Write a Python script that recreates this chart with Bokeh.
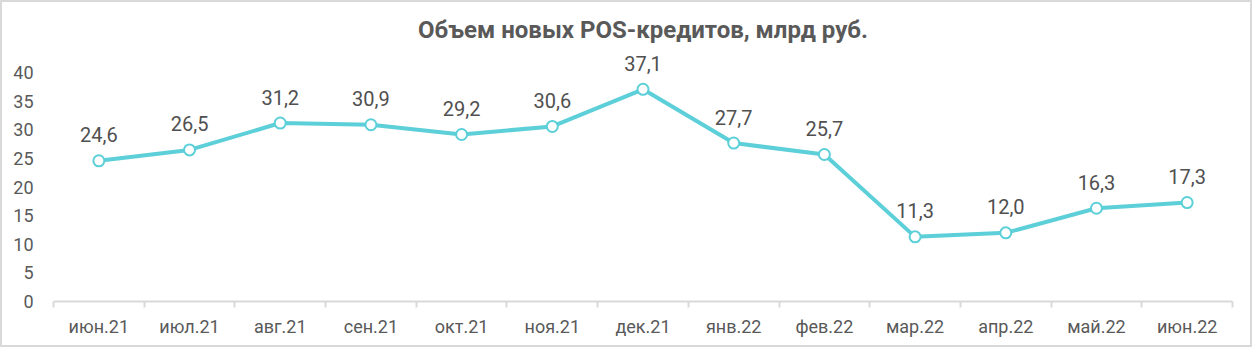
from bokeh.plotting import figure
from bokeh.models import ColumnDataSource, FixedTicker, Label, Range1d
from bokeh.core.properties import value
from bokeh.embed import file_html
from bokeh.resources import INLINE

months = ["июн.21", "июл.21", "авг.21", "сен.21", "окт.21", "ноя.21", "дек.21",
          "янв.22", "фев.22", "мар.22", "апр.22", "май.22", "июн.22"]
volumes = [24.6, 26.5, 31.2, 30.9, 29.2, 30.6, 37.1, 27.7, 25.7, 11.3, 12.0, 16.3, 17.3]
y_ticks = [0, 5, 10, 15, 20, 25, 30, 35, 40]
title_text = "Объем новых POS-кредитов, млрд руб."

FONT = "Roboto"
GREY = "#595959"
LINE = "#5ccfd8"

xs = [i + 0.5 for i in range(len(months))]
labels = [f"{v:.1f}".replace(".", ",") for v in volumes]
src = ColumnDataSource(dict(x=xs, y=volumes, lab=labels))

p = figure(width=1252, height=347, output_backend="svg", toolbar_location=None,
           x_range=Range1d(0, len(months)), y_range=Range1d(0, 50),
           min_border_left=51, min_border_right=22, min_border_bottom=48,
           min_border_top=13)
p.styles = {"border": "2px solid #d9d9d9"}
p.outline_line_color = None
p.grid.visible = False

title = Label(x=len(months) / 2, y=47.4, text=title_text, text_align="center",
              text_baseline="alphabetic", text_font=FONT, text_font_size="24px",
              text_font_style="bold", text_color=GREY)
p.add_layout(title)

p.line("x", "y", source=src, line_color=LINE, line_width=4)
p.scatter("x", "y", source=src, size=11, fill_color="white", line_color=LINE, line_width=2)
p.text("x", "y", text="lab", source=src, text_align="center", text_baseline="alphabetic",
       y_offset=-26, text_font=value(FONT), text_font_size="20px", text_color="#505050")

# x axis
p.xaxis.ticker = FixedTicker(ticks=xs, minor_ticks=list(range(len(months) + 1)))
p.xaxis.major_label_overrides = {x: m for x, m in zip(xs, months)}
p.xaxis.major_tick_line_color = None
p.xaxis.minor_tick_line_color = "#d9d9d9"
p.xaxis.minor_tick_line_width = 2
p.xaxis.minor_tick_in = 0
p.xaxis.minor_tick_out = 6
p.xaxis.axis_line_color = "#d9d9d9"
p.xaxis.axis_line_width = 2
p.xaxis.major_label_text_font = FONT
p.xaxis.major_label_text_font_size = "18px"
p.xaxis.major_label_text_color = GREY
p.xaxis.major_label_standoff = 8

# y axis
p.yaxis.ticker = FixedTicker(ticks=y_ticks)
p.yaxis.axis_line_color = None
p.yaxis.major_tick_line_color = None
p.yaxis.minor_tick_line_color = None
p.yaxis.major_label_text_font = FONT
p.yaxis.major_label_text_font_size = "18px"
p.yaxis.major_label_text_color = GREY
p.yaxis.major_label_standoff = 14

open("out.html", "w").write(file_html(p, INLINE))
